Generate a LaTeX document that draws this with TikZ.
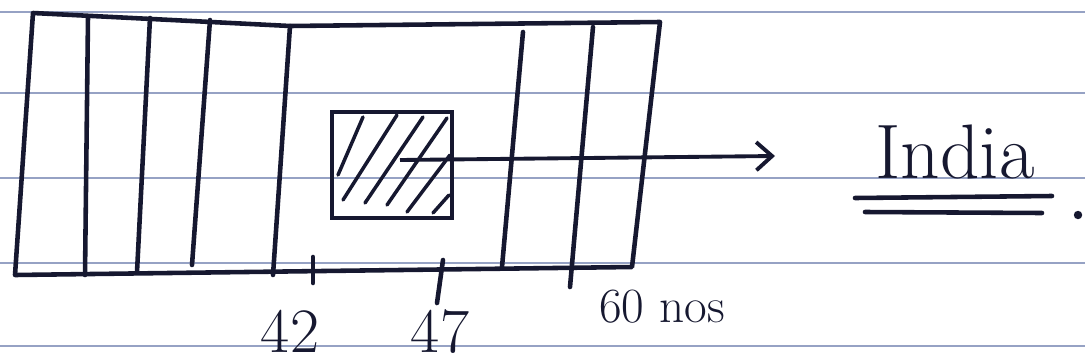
\documentclass[tikz,border=0pt]{standalone}
\usepackage{tikz}
\usetikzlibrary{positioning, arrows.meta}
\usepackage{xcolor}
\definecolor{ink}{RGB}{22,24,48}
\definecolor{ruling}{RGB}{150,162,196}

\begin{document}
\begin{tikzpicture}[
    x=0.02cm, y=-0.02cm,
    stroke/.style={draw=ink, line width=2.6pt, line cap=round, line join=round},
    rule/.style={draw=ruling, line width=0.8pt},
    hatch/.style={draw=ink, line width=2pt, line cap=round},
    plotbox/.style={draw=ink, line width=2.6pt, minimum width=2.4cm, minimum height=2.12cm, inner sep=0pt},
    lbl/.style={text=ink, font=\fontsize{36}{38}\selectfont, inner sep=0pt, anchor=base},
    arr/.style={-{Straight Barb[length=9pt, width=16pt]}, draw=ink, line width=2.2pt}
]
    \useasboundingbox (0,0) rectangle (1085,362);

    % ruled paper
    \foreach \ry in {12,93,178,263,346}
        \draw[rule] (0,\ry) -- (1085,\ry);

    % outer frame and strips
    \draw[stroke] (33,13) -- (290,26) -- (660,22) -- (632,267) -- (15,275) -- cycle;
    \foreach \xa/\ya/\xb/\yb in {88/17/85/275, 150/18/137/272, 210/20/192/265, 290/26/273/275, 523/32/502/267, 593/27/570/287}
        \draw[stroke] (\xa,\ya) -- (\xb,\yb);

    % ticks
    \draw[stroke] (313,257) -- (313,283);
    \draw[stroke] (443,260) -- (437,303);

    % hatched patch
    \node[plotbox] (patch) at (392,165) {};
    \foreach \xa/\ya/\xb/\yb in {338/175/363/117, 343/200/397/115, 365/203/423/117, 387/205/447/118, 407/212/450/155, 433/213/449/195}
        \draw[hatch] (\xa,\ya) -- (\xb,\yb);

    \node[lbl, font=\fontsize{44}{46}\selectfont] (india) at (955,178) {India};
    \coordinate (src) at (400,160);
    \coordinate (tip) at (775,156);
    \draw[arr] (src) -- (tip);
    \draw[stroke] (855,198) -- (1052,196);
    \draw[stroke] (865,212) -- (1042,213);
    \fill[ink] (1078,215) circle (2.4pt);

    \node[lbl] (n42) at (290,352) {42};
    \node[lbl] (n47) at (440,352) {47};
    \node[lbl, font=\fontsize{28}{30}\selectfont] (n60) at (662,322) {60 nos};
\end{tikzpicture}
\end{document}
